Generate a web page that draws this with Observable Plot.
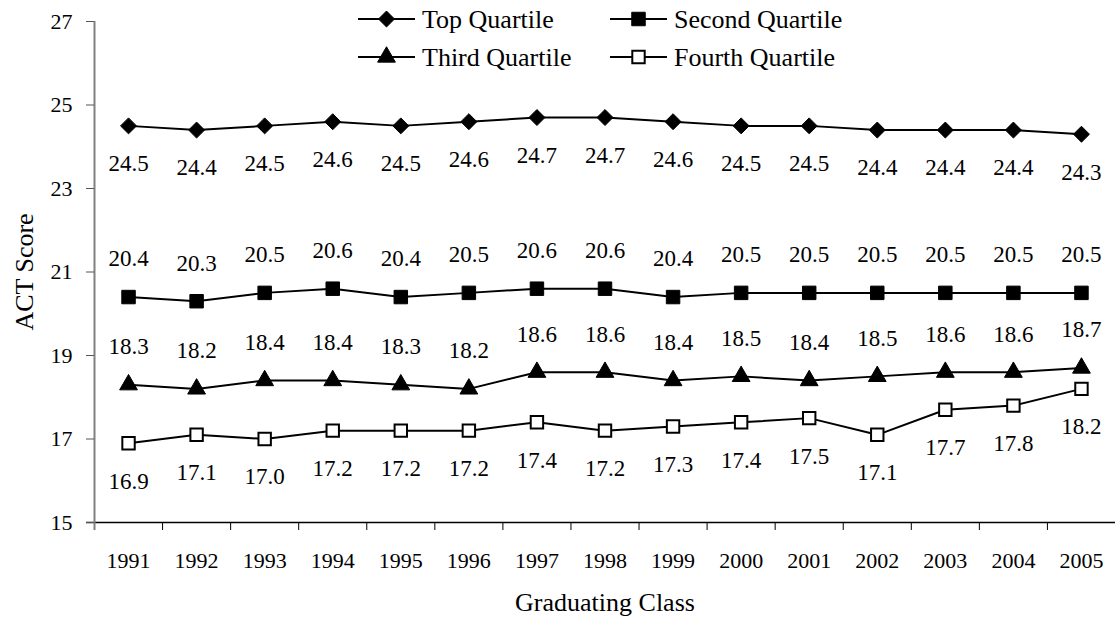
<!DOCTYPE html>
<html><head><meta charset="utf-8">
<script src="https://cdn.jsdelivr.net/npm/d3@7"></script>
<script src="https://cdn.jsdelivr.net/npm/@observablehq/plot@0.6"></script>
<style>
body{margin:0;background:#fff;}
#wrap{position:relative;width:1115px;height:622px;font-family:"Liberation Serif","Times New Roman",serif;}
#legend{position:absolute;left:0;top:0;overflow:visible;}
</style></head><body>
<div id="wrap"><div id="chart"></div><svg id="legend" width="1115" height="80"></svg></div>
<script>
const years = [1991,1992,1993,1994,1995,1996,1997,1998,1999,2000,2001,2002,2003,2004,2005];
const seriesNames = ["Top Quartile","Second Quartile","Third Quartile","Fourth Quartile"];
const topQuartile    = [24.5,24.4,24.5,24.6,24.5,24.6,24.7,24.7,24.6,24.5,24.5,24.4,24.4,24.4,24.3];
const secondQuartile = [20.4,20.3,20.5,20.6,20.4,20.5,20.6,20.6,20.4,20.5,20.5,20.5,20.5,20.5,20.5];
const thirdQuartile  = [18.3,18.2,18.4,18.4,18.3,18.2,18.6,18.6,18.4,18.5,18.4,18.5,18.6,18.6,18.7];
const fourthQuartile = [16.9,17.1,17.0,17.2,17.2,17.2,17.4,17.2,17.3,17.4,17.5,17.1,17.7,17.8,18.2];
const yTicks = [15,17,19,21,23,25,27];
const xTitle = "Graduating Class";
const yTitle = "ACT Score";

const seriesValues = [topQuartile, secondQuartile, thirdQuartile, fourthQuartile];
const styles = [
  {symbol:"diamond2", r:7.2, fill:"black", labelDy:38},
  {symbol:"square",   r:7.6, fill:"black", labelDy:-38},
  {symbol:"triangle", r:6.6, fill:"black", labelDy:-38},
  {symbol:"square",   r:7.0, fill:"white", labelDy:38}
];
const rows = seriesNames.flatMap((name, i) =>
  years.map((year, j) => ({series:name, year, value:seriesValues[i][j]})));
const boundaries = years.map(y => y - 0.5).concat([years[years.length-1] + 0.5]);
const font = '"Liberation Serif","Times New Roman",serif';

const marks = [
  Plot.ruleY([yTicks[0]], {stroke:"black", strokeWidth:1.5, insetLeft:-8}),
  Plot.ruleX([boundaries[0]], {stroke:"#808080", strokeWidth:2, insetBottom:-8}),
  Plot.axisY({ticks:yTicks, tickSize:8, tickPadding:14, stroke:"#555", fill:"black", fontSize:22,
    label:null}),
  Plot.axisY({ticks:[], tickSize:0, fontSize:26, fill:"black",
    label:yTitle, labelAnchor:"center", labelArrow:"none", labelOffset:80}),
  Plot.axisX({ticks:years, tickSize:0, tickPadding:30, tickFormat:d=>String(d), fill:"black", fontSize:22, label:null}),
  Plot.axisX({ticks:boundaries.slice(1), tickSize:8, tickFormat:()=>"", stroke:"black", label:null}),
  Plot.axisX({ticks:[], tickSize:0, fontSize:26, fill:"black",
    label:xTitle, labelAnchor:"center", labelArrow:"none", labelOffset:88}),
  Plot.line(rows, {x:"year", y:"value", z:"series", stroke:"black", strokeWidth:2})
];
seriesNames.forEach((name, i) => {
  const s = styles[i];
  const data = rows.filter(d => d.series === name);
  marks.push(Plot.dot(data, {x:"year", y:"value", symbol:s.symbol, r:s.r, fill:s.fill, stroke:"black", strokeWidth:s.fill === "white" ? 2 : 1}));
  marks.push(Plot.text(data, {x:"year", y:"value", text:d => d.value.toFixed(1), dy:s.labelDy, fontSize:23, fill:"black"}));
});

const chart = Plot.plot({
  width:1115, height:622,
  marginLeft:94, marginRight:0, marginTop:21, marginBottom:100,
  style:{fontFamily:font, fontSize:"22px", color:"black", background:"white", overflow:"visible"},
  x:{domain:[boundaries[0], boundaries[boundaries.length-1]]},
  y:{domain:[yTicks[0], yTicks[yTicks.length-1]]},
  marks
});
document.getElementById("chart").appendChild(chart);

// legend
const legend = d3.select("#legend").style("font-family", font);
const cols = [358, 610];
const rowsY = [19, 57];
seriesNames.forEach((name, i) => {
  const s = styles[i];
  const x0 = cols[i % 2], y0 = rowsY[Math.floor(i / 2)];
  const g = legend.append("g").attr("transform", `translate(${x0},${y0})`);
  g.append("line").attr("x1", 0).attr("x2", 57).attr("stroke", "black").attr("stroke-width", 2);
  const symType = {diamond2:d3.symbolDiamond2, square:d3.symbolSquare, triangle:d3.symbolTriangle}[s.symbol];
  g.append("path").attr("transform", "translate(28.5,0)")
    .attr("d", d3.symbol(symType, Math.PI * s.r * s.r)())
    .attr("fill", s.fill).attr("stroke", "black").attr("stroke-width", s.fill === "white" ? 2 : 1);
  g.append("text").attr("x", 64).attr("dy", "0.35em").attr("font-size", 26).attr("fill", "black").text(name);
});
</script></body></html>
